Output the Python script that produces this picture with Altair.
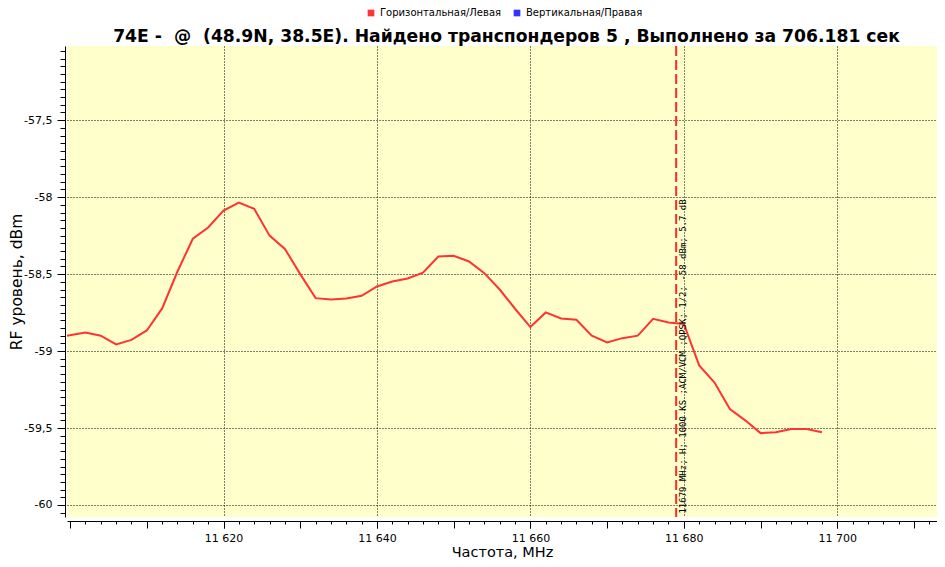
import altair as alt
import pandas as pd

# ---- data ----
freq = [11599.6, 11602, 11604, 11606, 11608, 11610, 11612, 11614, 11616, 11618,
        11620, 11622, 11624, 11626, 11628, 11630, 11632, 11634, 11636, 11638,
        11640, 11642, 11644, 11646, 11648, 11650, 11652, 11654, 11656, 11658,
        11660, 11662, 11664, 11666, 11668, 11670, 11672, 11674, 11676, 11678,
        11680, 11682, 11684, 11686, 11688, 11690, 11692, 11694, 11696, 11698]
level = [-58.90, -58.88, -58.90, -58.957, -58.927, -58.866, -58.723, -58.483, -58.27, -58.197,
         -58.087, -58.035, -58.076, -58.25, -58.336, -58.50, -58.656, -58.665, -58.658, -58.641,
         -58.58, -58.548, -58.528, -58.49, -58.386, -58.381, -58.418, -58.494, -58.60, -58.725,
         -58.844, -58.749, -58.788, -58.797, -58.90, -58.944, -58.916, -58.90, -58.79, -58.814,
         -58.824, -59.093, -59.204, -59.377, -59.45, -59.533, -59.528, -59.507, -59.507, -59.528]

series_names = ["Горизонтальная/Левая", "Вертикальная/Правая"]
series_colors = ["#FF3333", "#3333FF"]

tp_freq = [11679]
tp_level = [-60.056]
tp_label = ["11679 MHz; H; 1000 KS ;ACM/VCM ;QPSK; 1/2; -58 dBm; 5.7 dB"]

title_text = "74E -\u00a0 @\u00a0 (48.9N, 38.5E). Найдено транспондеров 5 , Выполнено за 706.181 сек"

x_domain = [11599.6, 11713.0]
y_domain = [-60.078, -57.018]
x_minor = list(range(11600, 11713, 2))
x_mid = list(range(11600, 11713, 10))
x_major = [11620, 11640, 11660, 11680, 11700]
y_minor = [round(-60.05 + 0.05 * i, 2) for i in range(61)]
y_major = [-60, -59.5, -59, -58.5, -58, -57.5]

df = pd.DataFrame({"freq": freq, "level": level})
df_tp = pd.DataFrame({"freq": tp_freq, "level": tp_level, "label": tp_label})
df_leg = pd.DataFrame({"freq": [None, None], "level": [None, None], "series": series_names})

FONT = "DejaVu Sans"
xs = alt.Scale(domain=x_domain, nice=False, zero=False)
ys = alt.Scale(domain=y_domain, nice=False, zero=False)

common_axis = dict(domainColor="black", tickColor="black", labelColor="black",
                   titleColor="black", labelFont=FONT, titleFont=FONT)

# minor ticks + axis lines, with the data line
line = alt.Chart(df).mark_line(color="#FF3333", strokeWidth=2).encode(
    x=alt.X("freq:Q", scale=xs,
            axis=alt.Axis(values=x_minor, tickSize=3, labels=False, grid=False,
                          domain=True, title=None, orient="bottom", offset=4, **common_axis)),
    y=alt.Y("level:Q", scale=ys,
            axis=alt.Axis(values=y_minor, tickSize=5, labels=False, grid=False,
                          domain=True, title=None, orient="left", offset=2, **common_axis)),
)

# medium x ticks every 10 MHz
mid = alt.Chart(df).mark_point(opacity=0).encode(
    x=alt.X("freq:Q", scale=xs,
            axis=alt.Axis(values=x_mid, tickSize=7, labels=False, grid=False,
                          domain=False, title=None, orient="bottom", offset=4, **common_axis)),
    y=alt.Y("level:Q", scale=ys, axis=None),
)

# major ticks, labels, grid, titles
major = alt.Chart(df).mark_point(opacity=0).encode(
    x=alt.X("freq:Q", scale=xs,
            axis=alt.Axis(values=x_major, tickSize=7, grid=True, gridColor="black",
                          gridDash=[1, 2], gridWidth=1, gridOpacity=1,
                          domain=False, orient="bottom", offset=4,
                          labelExpr="slice(toString(datum.value),0,2) + ' ' + slice(toString(datum.value),2)",
                          labelFontSize=11, labelPadding=4, labelOverlap=False,
                          title="Частота, MHz", titleFontSize=14.5, titleFontWeight="normal",
                          titleY=35, titleBaseline="alphabetic", **common_axis)),
    y=alt.Y("level:Q", scale=ys,
            axis=alt.Axis(values=y_major, tickSize=8, grid=True, gridColor="black",
                          gridDash=[1, 2], gridWidth=1, gridOpacity=1,
                          domain=False, orient="left", offset=2,
                          labelExpr="replace(toString(datum.value), '.', ',')",
                          labelFontSize=11, labelPadding=5, labelOverlap=False,
                          title="RF уровень, dBm", titleFontSize=15.5, titleFontWeight="normal",
                          titleX=-44, titleBaseline="alphabetic", **common_axis)),
)

rule = alt.Chart(df_tp).mark_rule(color="#FF2A2A", strokeWidth=2, strokeDash=[10, 4]).encode(
    x=alt.X("freq:Q", scale=xs, axis=None),
)

tp_text = alt.Chart(df_tp).mark_text(angle=270, align="left", baseline="middle", dy=7,
                                     font="DejaVu Sans Mono", fontSize=9, color="black").encode(
    x=alt.X("freq:Q", scale=xs, axis=None),
    y=alt.Y("level:Q", scale=ys, axis=None),
    text="label:N",
)

legend_layer = alt.Chart(df_leg).transform_filter("isValid(datum.freq)").mark_square(
    size=45, opacity=1, filled=True).encode(
    x=alt.X("freq:Q", scale=xs, axis=None),
    y=alt.Y("level:Q", scale=ys, axis=None),
    color=alt.Color("series:N",
                    scale=alt.Scale(domain=series_names, range=series_colors),
                    legend=alt.Legend(orient="none", legendX=299, legendY=-38,
                                      direction="horizontal", title=None,
                                      symbolType="square", symbolSize=45,
                                      symbolStrokeWidth=0, labelFont=FONT,
                                      labelFontSize=10, labelColor="black",
                                      labelOffset=4, columnPadding=10, padding=0)),
)

chart = alt.layer(line, mid, major, rule, tp_text, legend_layer).resolve_axis(
    x="independent", y="independent"
).properties(
    width=870, height=471,
    title=alt.TitleParams(title_text, font="DejaVu Sans", fontSize=17.2, fontWeight="bold",
                          color="black", anchor="middle", frame="group", offset=0,
                          baseline="alphabetic", dy=51, dx=4.5),
    padding={"left": 59, "top": 38, "right": 0, "bottom": 42},
    autosize=alt.AutoSizeParams(type="none"),
    background="white",
).configure_view(fill="#FFFFCC", stroke=None)

chart.save("out.html", embed_options={"renderer": "svg", "actions": False})
